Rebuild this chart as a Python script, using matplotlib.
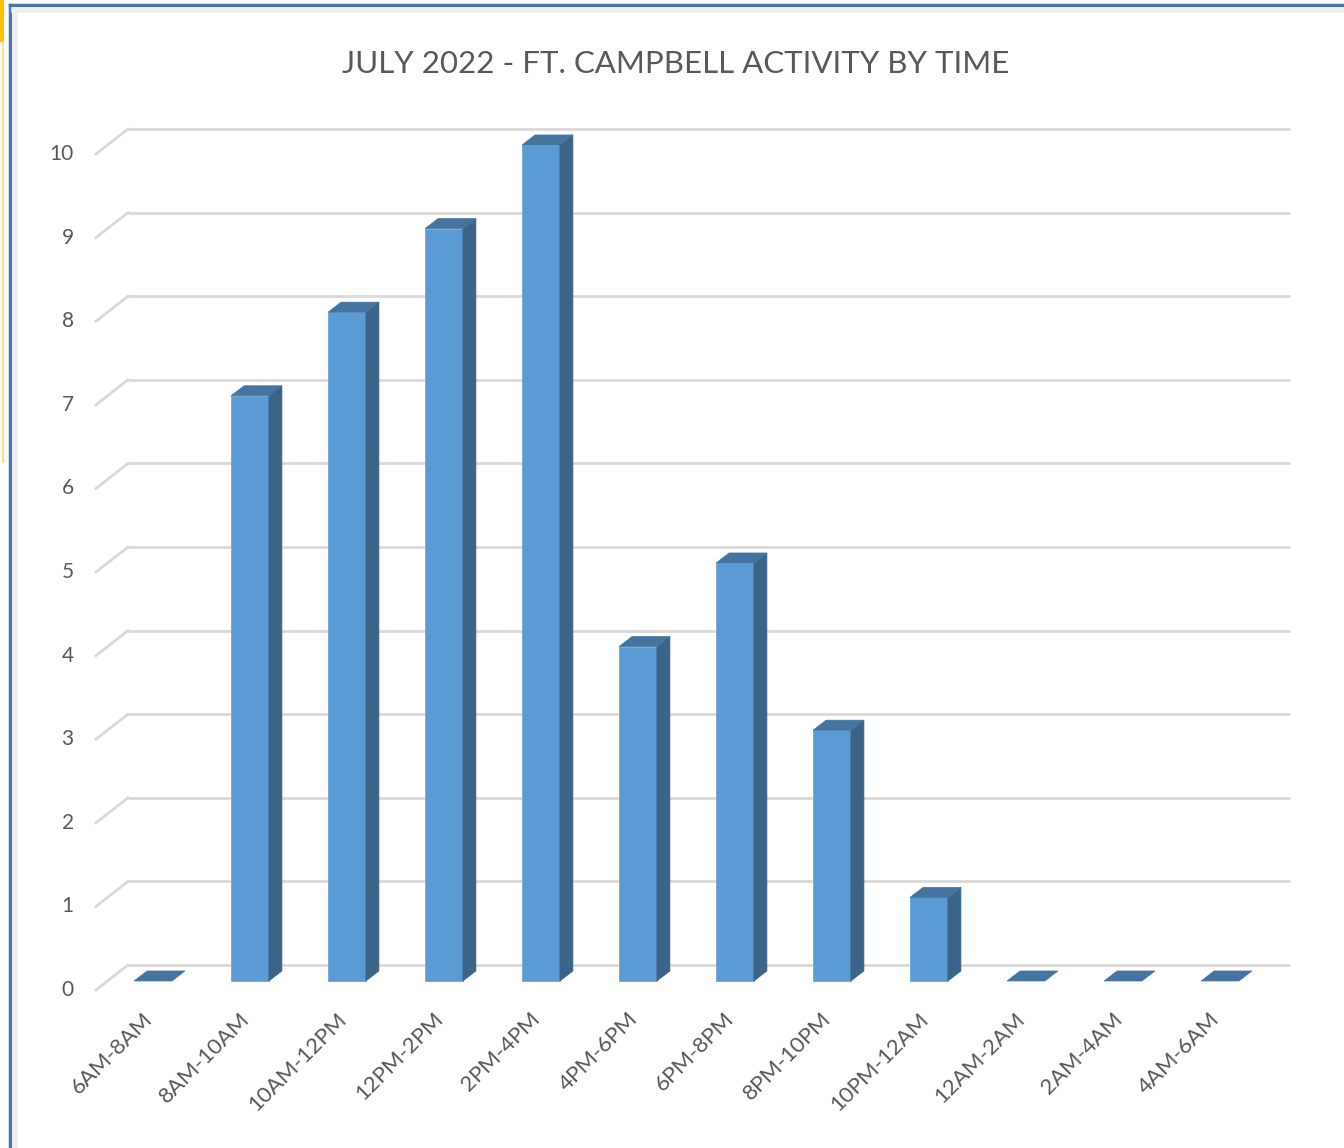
import numpy as np
import matplotlib.pyplot as plt
from matplotlib.patches import Polygon, Rectangle

plt.rcParams['font.family'] = ['Lato', 'DejaVu Sans']

# data
time_slots = ['6AM-8AM', '8AM-10AM', '10AM-12PM', '12PM-2PM', '2PM-4PM', '4PM-6PM',
              '6PM-8PM', '8PM-10PM', '10PM-12AM', '12AM-2AM', '2AM-4AM', '4AM-6AM']
activity = [0, 7, 8, 9, 10, 4, 5, 3, 1, 0, 0, 0]
y_ticks = list(range(0, 11))
title = 'JULY 2022 - FT. CAMPBELL ACTIVITY BY TIME'

# look of the fake 3d bars (data units)
BAR_W = 0.39
DX, DY = 0.134, 0.12           # bar depth
FRONT_DX, FRONT_DY = -0.118, -0.108   # front edge of floor
BACK_DX, BACK_DY = 0.212, 0.191       # back wall
C_FRONT = '#5B9BD5'
C_SIDE = '#3A6588'
C_TOP = '#44749F'
C_GRID = '#D9D9D9'
C_TEXT = '#595959'

W, H = 1344, 1148
fig = plt.figure(figsize=(W / 100, H / 100), dpi=100)

# axes placed so that one category = 97px, one unit = 83.6px
left, right, top, bottom = 30, 1320, 100, 1100
ax = fig.add_axes([left / W, 1 - bottom / H, (right - left) / W, (bottom - top) / H])
ax.set_xlim((left - 153) / 97, (right - 153) / 97)
ax.set_ylim((981 - bottom) / 83.6, (981 - top) / 83.6)
ax.axis('off')

n = len(time_slots)
wall_x0 = -0.5 + BACK_DX + 0.03
wall_x1 = n - 0.5 + BACK_DX + 0.01

# gridlines: back wall + side diagonal
for v in y_ticks:
    ax.plot([wall_x0, wall_x1], [v + BACK_DY, v + BACK_DY], color=C_GRID, lw=2, zorder=1,
            solid_capstyle='butt')
    fx = wall_x0 - (BACK_DX - FRONT_DX)
    ax.plot([fx, wall_x0], [v + FRONT_DY, v + BACK_DY], color=C_GRID, lw=2, zorder=1)
    ax.text(fx - 0.23, v + FRONT_DY, str(v), ha='right', va='center', fontsize=15,
            color=C_TEXT)

# bars
for i, v in enumerate(activity):
    x0, x1 = i - BAR_W / 2, i + BAR_W / 2
    if v > 0:
        ax.add_patch(Rectangle((x0, 0), BAR_W, v, facecolor=C_FRONT, edgecolor='#6FA8DC',
                               lw=0.6, zorder=3))
        ax.add_patch(Polygon([(x1, 0), (x1 + DX, DY), (x1 + DX, v + DY), (x1, v)],
                             closed=True, facecolor=C_SIDE, edgecolor=C_SIDE, lw=0.5,
                             zorder=3))
    ax.add_patch(Polygon([(x0, v), (x0 + DX, v + DY), (x1 + DX, v + DY), (x1, v)],
                         closed=True, facecolor=C_TOP, edgecolor=C_TOP, lw=0.5, zorder=3))
    ax.text(i - 0.04, -0.42, time_slots[i], rotation=45, rotation_mode='anchor', ha='right',
            va='center', fontsize=16, color=C_TEXT)

fig.text(676 / W, 1 - 64 / H, title, ha='center', va='center', fontsize=22.5, color=C_TEXT)

# chart frame (blue border on top and left) and the yellow cell marker
fig.add_artist(plt.Line2D([10 / W, 1], [1 - 5 / H, 1 - 5 / H], color='#4A76A8', lw=2.5))
fig.add_artist(plt.Line2D([10 / W, 10 / W], [0, 1 - 5 / H], color='#4A76A8', lw=2.5))
fig.add_artist(plt.Line2D([14 / W, 1], [1 - 10 / H, 1 - 10 / H], color='#EEEEEE', lw=4))
fig.add_artist(plt.Line2D([15 / W, 15 / W], [0, 1 - 10 / H], color='#EEEEEE', lw=4))
fig.add_artist(Rectangle((0, 1 - 42 / H), 4 / W, 42 / H, transform=fig.transFigure,
                         facecolor='#FFC000', edgecolor='none'))
fig.add_artist(plt.Line2D([3 / W, 3 / W], [1 - 462 / H, 1 - 42 / H], color='#FFE08A', lw=1.5))

fig.savefig('out.png', dpi=100, facecolor='white')
